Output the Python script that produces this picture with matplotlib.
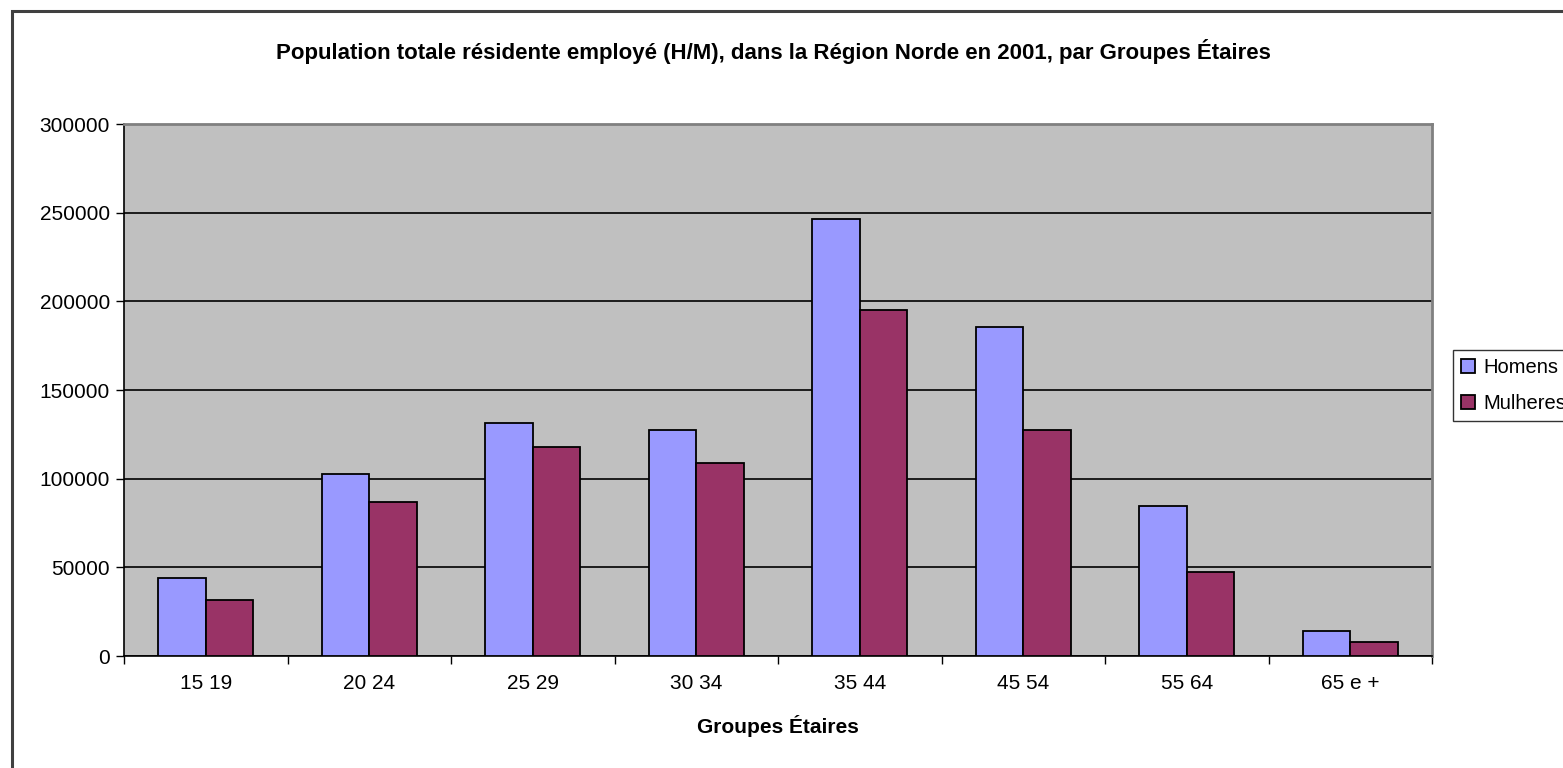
import numpy as np
import matplotlib
matplotlib.use('Agg')
import matplotlib.pyplot as plt
from matplotlib.patches import Rectangle

# données
groupes = ['15 19', '20 24', '25 29', '30 34', '35 44', '45 54', '55 64', '65 e +']
homens = [44000, 102500, 131500, 127300, 246500, 185700, 84500, 14300]
mulheres = [31500, 86700, 118000, 109000, 195000, 127300, 47400, 7700]

titre = 'Population totale résidente employé (H/M), dans la Région Norde en 2001, par Groupes Étaires'

plt.rcParams['font.family'] = ['Liberation Sans', 'DejaVu Sans']

W, H = 1563, 768
fig = plt.figure(figsize=(W / 100, H / 100), dpi=100)

# cadre extérieur du graphique (coupé à droite et en bas)
fig.patches.append(Rectangle((12 / W, -0.1), 1.2, 1 - 11 / H + 0.1, transform=fig.transFigure,
                             fill=False, edgecolor='#404040', linewidth=2.2))

ax = fig.add_axes([124 / W, 1 - 656 / H, (1432 - 124) / W, (656 - 124) / H])
ax.set_facecolor('#c0c0c0')

x = np.arange(len(groupes))
bw = 0.29
ax.bar(x - bw / 2, homens, bw, color='#9999ff', edgecolor='black', linewidth=1.3, label='Homens', zorder=3)
ax.bar(x + bw / 2, mulheres, bw, color='#993366', edgecolor='black', linewidth=1.3, label='Mulheres', zorder=3)

ax.set_xlim(-0.5, len(groupes) - 0.5)
ax.set_ylim(0, 300000)
ax.set_yticks(np.arange(0, 300001, 50000))
ax.yaxis.grid(True, color='black', linewidth=1.2, zorder=1)
ax.set_axisbelow(True)

ax.set_xticks(np.arange(-0.5, len(groupes), 1))
ax.set_xticklabels([])
ax.set_xticks(x, minor=True)
ax.set_xticklabels(groupes, minor=True, fontsize=15)
ax.tick_params(axis='x', which='minor', length=0, pad=13)
ax.tick_params(axis='x', which='major', length=6, width=1, direction='out')
ax.tick_params(axis='y', length=6, width=1, direction='out', labelsize=15, pad=4)

for s in ['left', 'bottom']:
    ax.spines[s].set_color('black')
    ax.spines[s].set_linewidth(1.2)
for s in ['top', 'right']:
    ax.spines[s].set_color('#808080')
    ax.spines[s].set_linewidth(2)

ax.set_xlabel('Groupes Étaires', fontsize=15, fontweight='bold', labelpad=16)
fig.text(0.495, 1 - 52 / H, titre, ha='center', va='center', fontsize=16, fontweight='bold')

leg = ax.legend(loc='upper left', bbox_to_anchor=(1453 / W, 1 - 350 / H), bbox_transform=fig.transFigure,
                fontsize=14.5, frameon=True, fancybox=False, edgecolor='black', borderpad=0.4,
                handlelength=0.7, handleheight=0.7, handletextpad=0.4, labelspacing=0.85, borderaxespad=0)
leg.get_frame().set_linewidth(1)

fig.savefig('out.png', dpi=100)
